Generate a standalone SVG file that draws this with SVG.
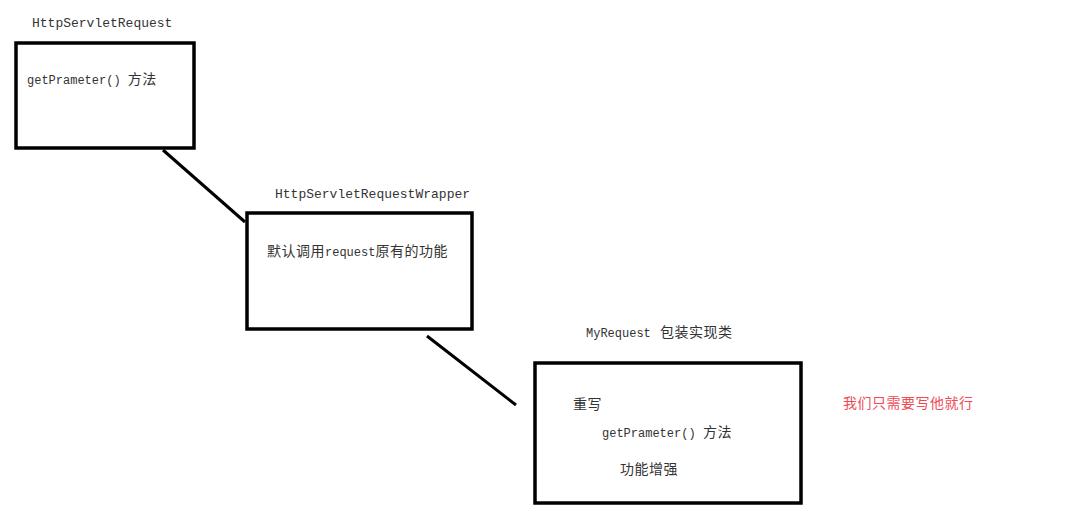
<svg xmlns="http://www.w3.org/2000/svg" width="1083" height="523" viewBox="0 0 1083 523">
<style>
.box{fill:#fff;stroke:#000;stroke-width:3.5}
.con{stroke:#000;stroke-width:3;fill:none}
.t{font-family:"Liberation Mono","Noto Sans CJK SC",monospace;fill:#333;font-size:12px}
.h{font-size:13px}
.c{font-family:"Noto Sans CJK SC",sans-serif;font-size:14px;letter-spacing:0.5px}
.red{font-family:"Noto Sans CJK SC",sans-serif;fill:#f04a55;font-size:14px;letter-spacing:0.5px}
</style>
<rect width="1083" height="523" fill="#fff"/>
<g id="connectors">
<line class="con" x1="163" y1="150" x2="245" y2="222"/>
<line class="con" x1="427" y1="336" x2="516" y2="405"/>
</g>
<g id="node-httpservletrequest">
<text class="t h" x="32" y="27">HttpServletRequest</text>
<rect class="box" x="16" y="43" width="178" height="105"/>
<text class="t" x="27" y="84">getPrameter() <tspan class="c">方法</tspan></text>
</g>
<g id="node-wrapper">
<text class="t h" x="275" y="198">HttpServletRequestWrapper</text>
<rect class="box" x="247" y="213" width="225" height="116"/>
<text class="t" x="267" y="256"><tspan class="c">默认调用</tspan>request<tspan class="c">原有的功能</tspan></text>
</g>
<g id="node-myrequest">
<text class="t" x="586" y="337">MyRequest <tspan class="c" x="660">包装实现类</tspan></text>
<rect class="box" x="535" y="363" width="266" height="140"/>
<text class="t c" x="573" y="409">重写</text>
<text class="t" x="602" y="437">getPrameter() <tspan class="c" x="703">方法</tspan></text>
<text class="t c" x="620" y="474">功能增强</text>
</g>
<g id="note">
<text class="red" x="843" y="408">我们只需要写他就行</text>
</g>
</svg>
